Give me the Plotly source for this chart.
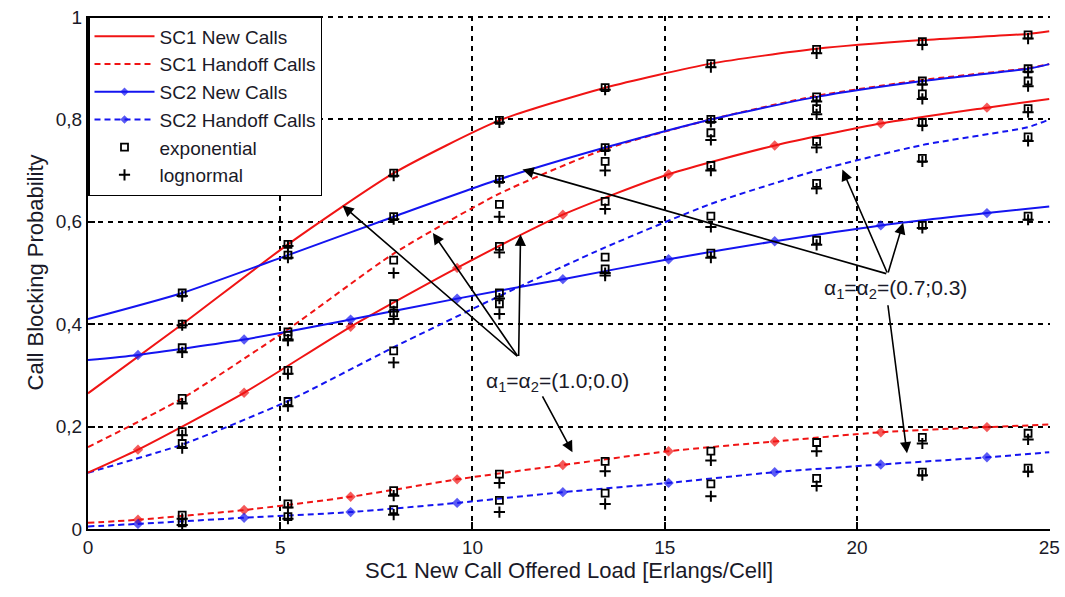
import plotly.graph_objects as go

# ---------------- data ----------------
upper_x = [0, 2.45, 5.2, 7.95, 10.7, 13.45, 16.2, 18.95, 21.7, 24.45, 25]
mark_x = [0, 1.3, 4.06, 6.83, 9.6, 12.35, 15.1, 17.86, 20.62, 23.38, 25]
sim_x = [2.45, 5.2, 7.95, 10.7, 13.45, 16.2, 18.95, 21.7, 24.45]

# analytical curves without markers
sc1_new_a = [0.265, 0.40, 0.556, 0.695, 0.798, 0.862, 0.909, 0.938, 0.955, 0.967, 0.972]
sc1_ho_a = [0.16, 0.255, 0.39, 0.538, 0.655, 0.742, 0.80, 0.846, 0.877, 0.900, 0.908]
sc2_new_a = [0.41, 0.461, 0.535, 0.61, 0.683, 0.745, 0.80, 0.844, 0.875, 0.899, 0.908]
sc2_ho_a = [0.11, 0.165, 0.25, 0.355, 0.455, 0.55, 0.635, 0.70, 0.75, 0.785, 0.80]

# analytical curves with diamond markers
sc1_new_b = [0.11, 0.155, 0.266, 0.395, 0.51, 0.614, 0.693, 0.749, 0.792, 0.823, 0.84]
sc2_new_b = [0.33, 0.34, 0.37, 0.409, 0.45, 0.488, 0.527, 0.562, 0.593, 0.617, 0.63]
sc1_ho_b = [0.012, 0.018, 0.037, 0.063, 0.097, 0.125, 0.152, 0.171, 0.189, 0.199, 0.204]
sc2_ho_b = [0.005, 0.01, 0.022, 0.033, 0.051, 0.072, 0.09, 0.111, 0.126, 0.14, 0.15]

# simulation: exponential
exp_sc1_new_a = [0.40, 0.556, 0.695, 0.798, 0.862, 0.909, 0.937, 0.952, 0.965]
exp_sc1_ho_a = [0.255, 0.385, 0.525, 0.634, 0.718, 0.774, 0.821, 0.85, 0.875]
exp_sc2_new_a = [0.461, 0.535, 0.61, 0.683, 0.745, 0.80, 0.844, 0.875, 0.899]
exp_sc2_ho_a = [0.167, 0.249, 0.348, 0.44, 0.531, 0.611, 0.675, 0.724, 0.766]
exp_sc1_new_b = [0.19, 0.31, 0.44, 0.552, 0.64, 0.71, 0.757, 0.794, 0.821]
exp_sc2_new_b = [0.354, 0.378, 0.422, 0.461, 0.508, 0.539, 0.564, 0.593, 0.611]
exp_sc1_ho_b = [0.027, 0.049, 0.075, 0.107, 0.132, 0.152, 0.169, 0.179, 0.187]
exp_sc2_ho_b = [0.012, 0.024, 0.038, 0.056, 0.07, 0.088, 0.099, 0.111, 0.119]

# simulation: lognormal
log_sc1_new_a = [0.398, 0.553, 0.69, 0.794, 0.858, 0.902, 0.929, 0.946, 0.958]
log_sc1_ho_a = [0.245, 0.37, 0.50, 0.61, 0.70, 0.76, 0.81, 0.84, 0.865]
log_sc2_new_a = [0.455, 0.53, 0.605, 0.678, 0.74, 0.795, 0.835, 0.868, 0.893]
log_sc2_ho_a = [0.158, 0.24, 0.325, 0.42, 0.50, 0.59, 0.665, 0.718, 0.758]
log_sc1_new_b = [0.183, 0.303, 0.425, 0.54, 0.625, 0.70, 0.745, 0.788, 0.814]
log_sc2_new_b = [0.345, 0.368, 0.41, 0.45, 0.495, 0.53, 0.555, 0.588, 0.604]
log_sc1_ho_b = [0.02, 0.042, 0.065, 0.09, 0.113, 0.134, 0.152, 0.167, 0.175]
log_sc2_ho_b = [0.008, 0.02, 0.028, 0.033, 0.049, 0.064, 0.084, 0.105, 0.112]

y_ticks = [0, 0.2, 0.4, 0.6, 0.8, 1]
y_tick_text = ["0", "0,2", "0,4", "0,6", "0,8", "1"]
x_ticks = [0, 5, 10, 15, 20, 25]

label_a = "α<sub>1</sub>=α<sub>2</sub>=(1.0;0.0)"
label_b = "α<sub>1</sub>=α<sub>2</sub>=(0.7;0.3)"
# arrows: (head_x, head_y, tail_x, tail_y)
arrows = [
    (6.62, 0.632, 11.2, 0.335),
    (8.97, 0.578, 11.2, 0.335),
    (11.25, 0.575, 11.2, 0.335),
    (12.6, 0.150, 11.8, 0.262),
    (11.3, 0.702, 20.8, 0.498),
    (19.62, 0.702, 20.8, 0.498),
    (21.2, 0.598, 20.8, 0.498),
    (21.3, 0.148, 20.8, 0.44),
]

RED = "#f01414"
BLUE = "#1414f0"
FONT = "Liberation Sans"
TXT = "#1a1a28"

fig = go.Figure()

def line_trace(x, y, color, dash, name, show, rank):
    fig.add_trace(go.Scatter(
        x=x, y=y, mode="lines", name=name, showlegend=show,
        legendgroup=name + str(rank), legendrank=rank,
        line=dict(color=color, width=2, dash=dash, shape="spline", smoothing=0.6),
        hoverinfo="skip"))

def marker_line_trace(x, y, color, dash, name, show, rank):
    sizes = [0] + [8] * (len(x) - 2) + [0]
    fig.add_trace(go.Scatter(
        x=x, y=y, mode="lines+markers", name=name, showlegend=show,
        legendgroup=name + str(rank), legendrank=rank,
        line=dict(color=color, width=2, dash=dash, shape="spline", smoothing=0.6),
        marker=dict(symbol="diamond", size=sizes, color=color, line=dict(width=0)),
        hoverinfo="skip"))

DASH = "6px,4px"
line_trace(upper_x, sc1_ho_a, RED, DASH, "SC1 Handoff Calls", True, 2)
line_trace(upper_x, sc1_new_a, RED, "solid", "SC1 New Calls", True, 1)
line_trace(upper_x, sc2_ho_a, BLUE, DASH, "SC2 Handoff Calls (a)", False, 10)
line_trace(upper_x, sc2_new_a, BLUE, "solid", "SC2 New Calls (a)", False, 11)
marker_line_trace(mark_x, sc1_new_b, RED, "solid", "SC1 New Calls (b)", False, 12)
marker_line_trace(mark_x, sc1_ho_b, RED, DASH, "SC1 Handoff Calls (b)", False, 13)
marker_line_trace(mark_x, sc2_new_b, BLUE, "solid", "SC2 New Calls", True, 3)
marker_line_trace(mark_x, sc2_ho_b, BLUE, DASH, "SC2 Handoff Calls", True, 4)

exp_sets = [exp_sc1_new_a, exp_sc1_ho_a, exp_sc2_new_a, exp_sc2_ho_a,
            exp_sc1_new_b, exp_sc2_new_b, exp_sc1_ho_b, exp_sc2_ho_b]
log_sets = [log_sc1_new_a, log_sc1_ho_a, log_sc2_new_a, log_sc2_ho_a,
            log_sc1_new_b, log_sc2_new_b, log_sc1_ho_b, log_sc2_ho_b]

for i, ys in enumerate(log_sets):
    fig.add_trace(go.Scatter(
        x=sim_x, y=ys, mode="markers", name="lognormal", showlegend=(i == 0),
        legendgroup="lognormal", legendrank=6,
        marker=dict(symbol="cross-thin", size=8, color="black",
                    line=dict(color="black", width=2)),
        hoverinfo="skip"))
for i, ys in enumerate(exp_sets):
    fig.add_trace(go.Scatter(
        x=sim_x, y=ys, mode="markers", name="exponential", showlegend=(i == 0),
        legendgroup="exponential", legendrank=5,
        marker=dict(symbol="square-open", size=7, color="black",
                    line=dict(color="black", width=1.8)),
        hoverinfo="skip"))

for hx, hy, tx, ty in arrows:
    fig.add_annotation(x=hx, y=hy, ax=tx, ay=ty, xref="x", yref="y",
                       axref="x", ayref="y", text="", showarrow=True,
                       arrowhead=2, arrowsize=1.4, arrowwidth=1.6,
                       arrowcolor="black", standoff=0, startstandoff=0)

fig.add_annotation(x=12.2, y=0.287, xref="x", yref="y", text=label_a,
                   showarrow=False, font=dict(family=FONT, size=21, color=TXT))
fig.add_annotation(x=21.0, y=0.469, xref="x", yref="y", text=label_b,
                   showarrow=False, font=dict(family=FONT, size=21, color=TXT))

grid = dict(showgrid=True, gridcolor="black", gridwidth=1.8, griddash="5px,5px")
fig.update_xaxes(range=[0, 25.02], tickvals=x_ticks, ticks="inside", ticklen=7,
                 tickwidth=1.6, tickcolor="black", showline=True, linecolor="black",
                 linewidth=2, zeroline=False, automargin=False, **grid,
                 title=dict(text="SC1 New Call Offered Load [Erlangs/Cell]",
                            font=dict(family=FONT, size=22, color=TXT), standoff=6),
                 tickfont=dict(family=FONT, size=19, color=TXT))
fig.update_yaxes(range=[0, 1.002], tickvals=y_ticks, ticktext=y_tick_text,
                 ticks="inside", ticklen=7, tickwidth=1.6, tickcolor="black",
                 showline=True, linecolor="black", linewidth=2, zeroline=False,
                 automargin=False, **grid,
                 title=dict(text="Call Blocking Probability",
                            font=dict(family=FONT, size=22, color=TXT), standoff=6),
                 tickfont=dict(family=FONT, size=19, color=TXT))

fig.update_layout(
    width=1065, height=597,
    margin=dict(l=88, r=15, t=16, b=68),
    paper_bgcolor="white", plot_bgcolor="white",
    legend=dict(x=0.0, y=1.0, xanchor="left", yanchor="top",
                bgcolor="white", bordercolor="black", borderwidth=1.5,
                font=dict(family=FONT, size=19, color=TXT),
                traceorder="grouped", tracegroupgap=0, itemwidth=60),
)

fig.write_html("out.html")
